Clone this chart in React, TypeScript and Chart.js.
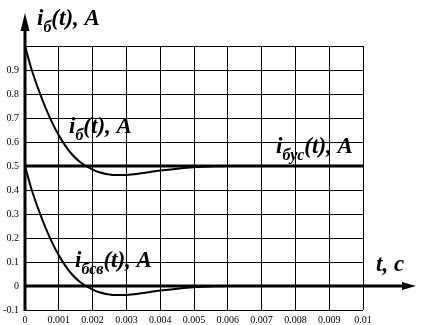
import React, { useEffect, useRef } from "react";
import { Chart, registerables } from "chart.js";

Chart.register(...registerables);

// time, s
const timeValues = [
  0, 0.0002, 0.0004, 0.0006, 0.0008, 0.001, 0.0012, 0.0014, 0.0016, 0.0018,
  0.002, 0.0022, 0.0024, 0.0026, 0.0028, 0.003, 0.0033, 0.0036, 0.004, 0.0045,
  0.005, 0.0055, 0.006, 0.007, 0.008, 0.009, 0.01,
];
// i_б(t), A
const iBValues = [
  1.0, 0.9, 0.818, 0.745, 0.682, 0.628, 0.583, 0.547, 0.52, 0.5,
  0.485, 0.474, 0.467, 0.463, 0.462, 0.463, 0.467, 0.473, 0.481, 0.489,
  0.495, 0.498, 0.5, 0.5, 0.5, 0.5, 0.5,
];
// i_бсв(t), A
const iBsvValues = [
  0.5, 0.4, 0.318, 0.245, 0.182, 0.128, 0.083, 0.047, 0.02, 0.0,
  -0.015, -0.026, -0.033, -0.037, -0.038, -0.037, -0.033, -0.027, -0.019, -0.011,
  -0.005, -0.002, 0, 0, 0, 0, 0,
];
// i_бус(t), A
const iBusTime = [0, 0.01];
const iBusValues = [0.5, 0.5];

const yMin = -0.1;
const yMax = 1.0;
const yStep = 0.1;
const xMin = 0;
const xMax = 0.01;
const xStep = 0.001;

const serif = '"Liberation Serif", "Times New Roman", serif';

function drawSubLabel(
  ctx: CanvasRenderingContext2D,
  x: number,
  y: number,
  base: string,
  sub: string,
  rest: string,
  size: number,
  subSize: number
) {
  ctx.font = `italic bold ${size}px ${serif}`;
  ctx.fillText(base, x, y);
  let cx = x + ctx.measureText(base).width;
  ctx.font = `italic bold ${subSize}px ${serif}`;
  ctx.fillText(sub, cx, y + subSize * 0.45);
  cx += ctx.measureText(sub).width;
  ctx.font = `italic bold ${size}px ${serif}`;
  ctx.fillText(rest, cx, y);
}

const decorPlugin = {
  id: "decor",
  afterDraw(chart: any) {
    const { ctx, scales } = chart;
    const xs = scales.x;
    const ys = scales.y;
    const x0 = xs.getPixelForValue(0);
    const yBottom = ys.getPixelForValue(yMin);
    const yZero = ys.getPixelForValue(0);
    ctx.save();
    ctx.strokeStyle = "#000";
    ctx.fillStyle = "#000";
    ctx.lineWidth = 3;
    // vertical axis with arrow
    ctx.beginPath();
    ctx.moveTo(x0, yBottom + 1);
    ctx.lineTo(x0, 28);
    ctx.stroke();
    ctx.beginPath();
    ctx.moveTo(x0, 13);
    ctx.lineTo(x0 - 4.5, 31);
    ctx.lineTo(x0 + 4.5, 31);
    ctx.closePath();
    ctx.fill();
    // horizontal axis with arrow
    ctx.beginPath();
    ctx.moveTo(x0, yZero);
    ctx.lineTo(406, yZero);
    ctx.stroke();
    ctx.beginPath();
    ctx.moveTo(416, yZero);
    ctx.lineTo(402, yZero - 4);
    ctx.lineTo(402, yZero + 4);
    ctx.closePath();
    ctx.fill();

    ctx.textAlign = "left";
    ctx.textBaseline = "alphabetic";
    drawSubLabel(ctx, 37, 25, "i", "б", "(t), A", 23, 16);
    drawSubLabel(ctx, 69, 133, "i", "б", "(t), A", 23, 16);
    drawSubLabel(ctx, 276, 153, "i", "бус", "(t), A", 23, 16);
    drawSubLabel(ctx, 75, 267, "i", "бсв", "(t), A", 23, 16);
    ctx.font = `italic bold 23px ${serif}`;
    ctx.fillText("t, c", 376, 271);
    ctx.restore();
  },
};

function toPoints(xsArr: number[], ysArr: number[]) {
  return xsArr.map((x, i) => ({ x, y: ysArr[i] }));
}

export default function App() {
  const ref = useRef<HTMLCanvasElement | null>(null);
  useEffect(() => {
    document.body.style.margin = "0";
    const canvas = ref.current;
    if (!canvas) return;
    const chart = new Chart(canvas, {
      type: "line",
      data: {
        datasets: [
          {
            label: "iб(t)",
            data: toPoints(timeValues, iBValues),
            borderColor: "#000",
            borderWidth: 2,
            pointRadius: 0,
            cubicInterpolationMode: "monotone",
            fill: false,
          },
          {
            label: "iбсв(t)",
            data: toPoints(timeValues, iBsvValues),
            borderColor: "#000",
            borderWidth: 2,
            pointRadius: 0,
            cubicInterpolationMode: "monotone",
            fill: false,
          },
          {
            label: "iбус(t)",
            data: toPoints(iBusTime, iBusValues),
            borderColor: "#000",
            borderWidth: 3,
            pointRadius: 0,
            fill: false,
          },
        ],
      },
      options: {
        responsive: false,
        animation: false,
        events: [],
        layout: { padding: { top: 46, right: 67, left: 0, bottom: 0 } },
        plugins: {
          legend: { display: false },
          tooltip: { enabled: false },
          title: { display: false },
        },
        scales: {
          x: {
            type: "linear",
            min: xMin,
            max: xMax,
            afterFit(scale: any) {
              scale.height = 15;
            },
            border: { display: false },
            grid: { color: "#000", lineWidth: 1, drawTicks: false },
            ticks: {
              stepSize: xStep,
              autoSkip: false,
              maxRotation: 0,
              padding: 4,
              color: "#000",
              font: { family: serif, size: 10 },
              callback: (v: any) => String(Number(Number(v).toFixed(3))),
            },
          },
          y: {
            type: "linear",
            min: yMin,
            max: yMax,
            afterFit(scale: any) {
              scale.width = 25;
            },
            border: { display: false },
            grid: { color: "#000", lineWidth: 1, drawTicks: false },
            ticks: {
              stepSize: yStep,
              autoSkip: false,
              padding: 6,
              color: "#000",
              font: { family: serif, size: 10 },
              callback: (v: any) => {
                const n = Number(Number(v).toFixed(1));
                if (n >= 1) return "";
                return String(n);
              },
            },
          },
        },
      },
      plugins: [decorPlugin],
    } as any);
    return () => chart.destroy();
  }, []);
  return (
    <div style={{ position: "absolute", left: 0, top: 0, width: 430, height: 325, background: "#fff" }}>
      <canvas ref={ref} width={430} height={325} style={{ display: "block" }} />
    </div>
  );
}
